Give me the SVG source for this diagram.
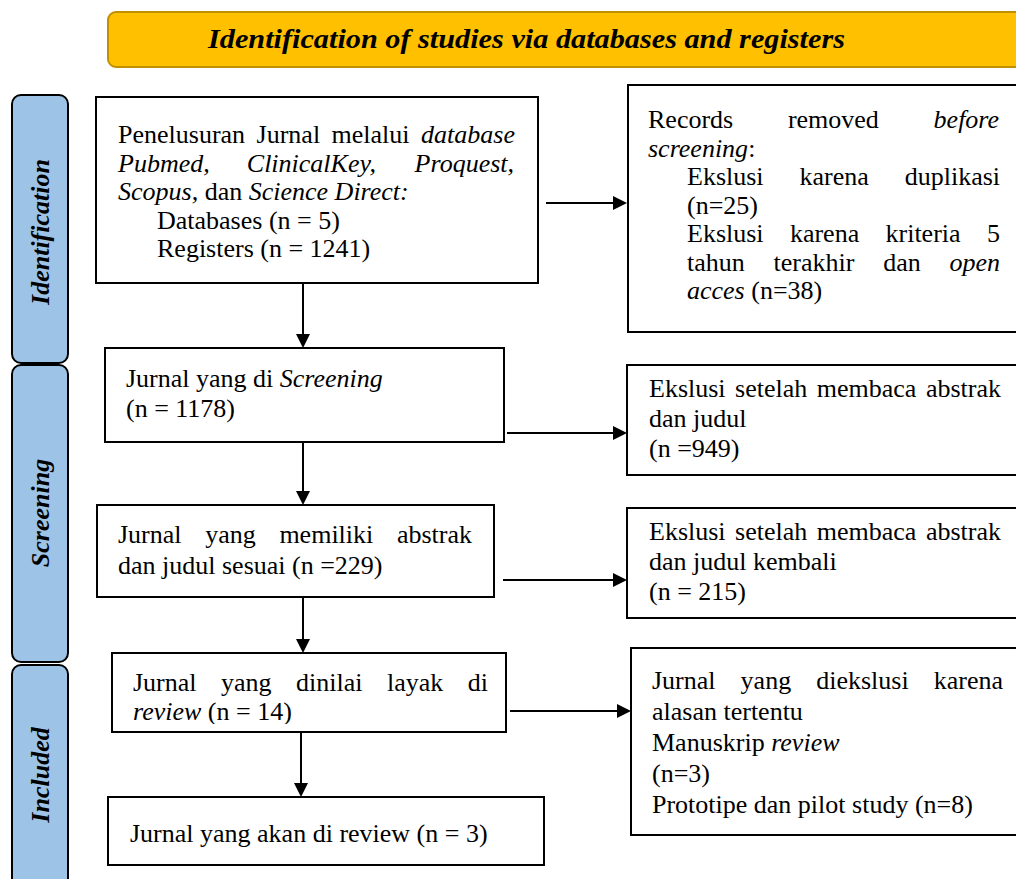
<svg xmlns="http://www.w3.org/2000/svg" width="1016" height="879" viewBox="0 0 1016 879">
<style>
.box{fill:#fff;stroke:#000;stroke-width:2}
.t{font-family:"Liberation Serif","Times New Roman",serif;font-size:26px;fill:#000}
.i{font-style:italic}
.side{fill:#9DC3E6;stroke:#000;stroke-width:2}
.st{font-family:"Liberation Serif","Times New Roman",serif;font-size:26px;font-weight:bold;font-style:italic;text-anchor:middle;fill:#000}
.ar{stroke:#000;stroke-width:2;fill:none;marker-end:url(#ah)}
</style>
<defs>
<marker id="ah" markerUnits="userSpaceOnUse" markerWidth="14" markerHeight="14" refX="1" refY="7" orient="auto" viewBox="0 0 14 14">
<path d="M0,0 L14,7 L0,14 z" fill="#000"/>
</marker>
<clipPath id="c7"><rect x="112" y="653" width="394" height="71"/></clipPath>
</defs>

<g id="header">
<rect x="108" y="12" width="930" height="55" rx="8" fill="#FFC000" stroke="#BF9000" stroke-width="2"/>
<text x="208" y="48" textLength="637" lengthAdjust="spacingAndGlyphs" font-family="Liberation Serif, Times New Roman, serif" font-size="28" font-weight="bold" font-style="italic">Identification of studies via databases and registers</text>
</g>

<g id="stage-identification">
<rect class="side" x="12" y="95" width="56" height="268" rx="9"/>
<text class="st" transform="translate(49,232) rotate(-90)">Identification</text>
</g>
<g id="stage-screening">
<rect class="side" x="12" y="365" width="56" height="297" rx="9"/>
<text class="st" transform="translate(49,513) rotate(-90)">Screening</text>
</g>
<g id="stage-included">
<rect class="side" x="12" y="665" width="56" height="240" rx="9"/>
<text class="st" transform="translate(49,775) rotate(-90)">Included</text>
</g>

<g id="n-search">
<rect class="box" x="96" y="97" width="442" height="186"/>
<text class="t" y="143"><tspan x="118">Penelusuran</tspan><tspan x="256.6">Jurnal</tspan><tspan x="331.6">melalui</tspan><tspan x="421.1" class="i">database</tspan></text>
<text class="t i" y="172"><tspan x="118">Pubmed,</tspan><tspan x="246.8">ClinicalKey,</tspan><tspan x="414.6">Proquest,</tspan></text>
<text class="t" x="118" y="200"><tspan class="i">Scopus,</tspan> dan <tspan class="i">Science Direct:</tspan></text>
<text class="t" x="157" y="229">Databases (n = 5)</text>
<text class="t" x="157" y="257">Registers (n = 1241)</text>
</g>

<g id="n-removed">
<rect class="box" x="628" y="85" width="400" height="247"/>
<text class="t" y="128"><tspan x="648">Records</tspan><tspan x="787.9">removed</tspan><tspan x="933.6" class="i">before</tspan></text>
<text class="t" x="648" y="156.5"><tspan class="i">screening</tspan>:</text>
<text class="t" y="185"><tspan x="687">Ekslusi</tspan><tspan x="799.5">karena</tspan><tspan x="904.7">duplikasi</tspan></text>
<text class="t" x="687" y="213.5">(n=25)</text>
<text class="t" y="242"><tspan x="687">Ekslusi</tspan><tspan x="789.9">karena</tspan><tspan x="885.5">kriteria</tspan><tspan x="987">5</tspan></text>
<text class="t" y="270.5"><tspan x="687">tahun</tspan><tspan x="773.6">terakhir</tspan><tspan x="883.3">dan</tspan><tspan x="949.5" class="i">open</tspan></text>
<text class="t" x="687" y="299"><tspan class="i">acces</tspan> (n=38)</text>
</g>

<g id="n-screened">
<rect class="box" x="105" y="348" width="399" height="94"/>
<text class="t" x="126" y="387">Jurnal yang di <tspan class="i">Screening</tspan></text>
<text class="t" x="126" y="417">(n = 1178)</text>
</g>

<g id="n-excl1">
<rect class="box" x="627" y="365" width="400" height="110"/>
<text class="t" y="397"><tspan x="649">Ekslusi</tspan><tspan x="735.1">setelah</tspan><tspan x="816.8">membaca</tspan><tspan x="925.9">abstrak</tspan></text>
<text class="t" x="649" y="427">dan judul</text>
<text class="t" x="649" y="457">(n =949)</text>
</g>

<g id="n-abstract">
<rect class="box" x="97" y="505" width="397" height="92"/>
<text class="t" y="543"><tspan x="118">Jurnal</tspan><tspan x="205.2">yang</tspan><tspan x="279.4">memiliki</tspan><tspan x="396.9">abstrak</tspan></text>
<text class="t" x="118" y="574">dan judul sesuai (n =229)</text>
</g>

<g id="n-excl2">
<rect class="box" x="627" y="508" width="400" height="110"/>
<text class="t" y="540"><tspan x="649">Ekslusi</tspan><tspan x="735.1">setelah</tspan><tspan x="816.8">membaca</tspan><tspan x="925.9">abstrak</tspan></text>
<text class="t" x="649" y="570">dan judul kembali</text>
<text class="t" x="649" y="600">(n = 215)</text>
</g>

<g id="n-eligible">
<rect class="box" x="112" y="653" width="394" height="79"/>
<text class="t" y="691"><tspan x="133">Jurnal</tspan><tspan x="221">yang</tspan><tspan x="296">dinilai</tspan><tspan x="387">layak</tspan><tspan x="467.8">di</tspan></text>
<text class="t" x="133" y="720" clip-path="url(#c7)"><tspan class="i">review</tspan> (n = 14)</text>
</g>

<g id="n-excl3">
<rect class="box" x="631" y="648" width="400" height="187"/>
<text class="t" y="689"><tspan x="652">Jurnal</tspan><tspan x="740.6">yang</tspan><tspan x="816.2">diekslusi</tspan><tspan x="933.7">karena</tspan></text>
<text class="t" x="652" y="720">alasan tertentu</text>
<text class="t" x="652" y="751">Manuskrip <tspan class="i">review</tspan></text>
<text class="t" x="652" y="782">(n=3)</text>
<text class="t" x="652" y="813">Prototipe dan pilot study (n=8)</text>
</g>

<g id="n-included">
<rect class="box" x="108" y="797" width="436" height="68"/>
<text class="t" x="130" y="842">Jurnal yang akan di review (n = 3)</text>
</g>

<g id="connectors">
<line class="ar" x1="546" y1="203" x2="614" y2="203"/>
<line class="ar" x1="303" y1="283" x2="303" y2="335"/>
<line class="ar" x1="507" y1="433" x2="614" y2="433"/>
<line class="ar" x1="303" y1="442" x2="303" y2="492"/>
<line class="ar" x1="503" y1="580" x2="614" y2="580"/>
<line class="ar" x1="303" y1="597" x2="303" y2="640"/>
<line class="ar" x1="510" y1="711" x2="618" y2="711"/>
<line class="ar" x1="301" y1="732" x2="301" y2="784"/>
</g>
</svg>
